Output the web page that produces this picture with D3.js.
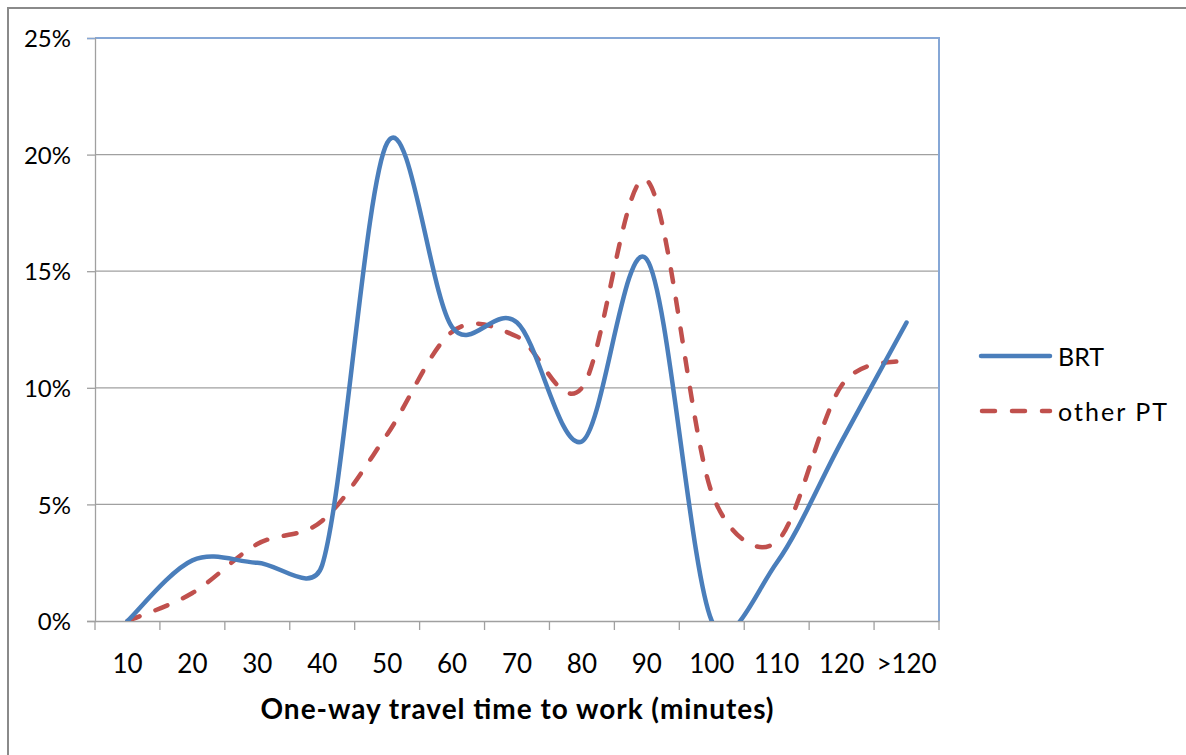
<!DOCTYPE html>
<html>
<head>
<meta charset="utf-8">
<script src="https://cdn.jsdelivr.net/npm/d3@7"></script>
<style>
  body { margin: 0; background: #fff; }
  svg { display: block; }
  text { font-family: Lato, "Open Sans", sans-serif; fill: #000; }
</style>
</head>
<body>
<svg id="chart" width="1186" height="755"></svg>
<script>
const categories = ["10","20","30","40","50","60","70","80","90","100","110","120",">120"];
const brt     = [0, 2.6, 2.5, 2.4, 20.5, 12.6, 12.8, 7.7, 15.5, 0, 2.5, 7.7, 12.8];
const otherPT = [0, 1.2, 3.3, 4.3, 8.0, 12.4, 12.2, 10.0, 18.9, 5.5, 3.4, 10.1, 11.2];
const yTicks  = [0, 5, 10, 15, 20, 25];
const seriesNames = ["BRT", "other PT"];

// Excel-style smoothed curve factory for d3.line (Bezier arms = neighbour chord / 6,
// clamped to half of the segment length)
function ExcelSmooth(context) { this._context = context; }
ExcelSmooth.prototype = {
  areaStart() { this._line = 0; },
  areaEnd() { this._line = NaN; },
  lineStart() { this._pts = []; },
  point(x, y) { this._pts.push([+x, +y]); },
  lineEnd() {
    const p = this._pts, c = this._context, n = p.length;
    if (!n) return;
    c.moveTo(p[0][0], p[0][1]);
    for (let i = 0; i < n - 1; i++) {
      const P0 = p[i - 1] || p[i], P1 = p[i], P2 = p[i + 1], P3 = p[i + 2] || p[i + 1];
      const d12 = Math.hypot(P2[0] - P1[0], P2[1] - P1[1]);
      let a1 = [(P2[0] - P0[0]) / 6, (P2[1] - P0[1]) / 6];
      let a2 = [(P3[0] - P1[0]) / 6, (P3[1] - P1[1]) / 6];
      const l1 = Math.hypot(a1[0], a1[1]), l2 = Math.hypot(a2[0], a2[1]);
      if (l1 > d12 / 2) { const s = d12 / 2 / l1; a1 = [a1[0] * s, a1[1] * s]; }
      if (l2 > d12 / 2) { const s = d12 / 2 / l2; a2 = [a2[0] * s, a2[1] * s]; }
      c.bezierCurveTo(P1[0] + a1[0], P1[1] + a1[1], P2[0] - a2[0], P2[1] - a2[1], P2[0], P2[1]);
    }
  }
};
const curveExcel = ctx => new ExcelSmooth(ctx);

(function () {
const svg = d3.select("#chart");
const W = 1186, H = 755;
const pLeft = 95, pRight = 939, pTop = 38, pBottom = 621;

// outer chart border
svg.append("rect").attr("x", 8).attr("y", 8).attr("width", W + 20).attr("height", H + 20)
  .attr("fill", "none").attr("stroke", "#8a8a8a").attr("stroke-width", 2);

const x = d3.scaleBand().domain(categories).range([pLeft, pRight]).padding(0);
const y = d3.scaleLinear().domain([0, 25]).range([pBottom, pTop]);

// gridlines
svg.append("g").selectAll("line").data(yTicks.filter(t => t > 0 && t < 25)).join("line")
  .attr("x1", pLeft).attr("x2", pRight)
  .attr("y1", d => y(d)).attr("y2", d => y(d))
  .attr("stroke", "#a0a0a0").attr("stroke-width", 1.3);

// plot area border (top & right, blue)
svg.append("path")
  .attr("d", `M${pLeft},${pTop}H${pRight}V${pBottom}`)
  .attr("fill", "none").attr("stroke", "#86a7d6").attr("stroke-width", 2);

// y axis
const yAxis = d3.axisLeft(y).tickValues(yTicks).tickFormat(d => d + "%").tickSize(8).tickPadding(16);
const gy = svg.append("g").attr("transform", `translate(${pLeft},0)`).call(yAxis);
gy.select(".domain").attr("stroke", "#a0a0a0").attr("stroke-width", 1.3);
gy.selectAll(".tick line").attr("stroke", "#a0a0a0").attr("stroke-width", 1.3);
gy.selectAll(".tick").filter(d => d === 25).select("line").attr("stroke", "#86a7d6");
gy.selectAll("text").attr("font-size", 24).attr("font-family", "Lato, sans-serif").attr("fill", "#000").attr("dy", "0.36em");

// x axis
const xAxis = d3.axisBottom(x).tickSize(0).tickPadding(34);
const gx = svg.append("g").attr("transform", `translate(0,${pBottom})`).call(xAxis);
gx.select(".domain").attr("stroke", "#a0a0a0").attr("stroke-width", 1.3);
gx.selectAll("text").attr("font-size", 26).attr("font-family", "Lato, sans-serif").attr("fill", "#000");
// boundary tick marks
const bounds = categories.map(c => x(c)).concat([x(categories[categories.length - 1]) + x.bandwidth()]);
gx.append("g").selectAll("line").data(bounds).join("line")
  .attr("x1", d => d).attr("x2", d => d).attr("y1", 0).attr("y2", 9)
  .attr("stroke", "#a0a0a0").attr("stroke-width", 1.3);

// x title
svg.append("text").attr("x", (pLeft + pRight) / 2).attr("y", 719)
  .attr("text-anchor", "middle").attr("font-size", 28).attr("font-weight", "bold")
  .attr("textLength", 513).attr("lengthAdjust", "spacing")
  .text("One-way travel time to work (minutes)");

// clip
svg.append("clipPath").attr("id", "plotclip").append("rect")
  .attr("x", pLeft).attr("y", pTop - 10).attr("width", pRight - pLeft).attr("height", pBottom - pTop + 10);

const line = d3.line()
  .x((d, i) => x(categories[i]) + x.bandwidth() / 2)
  .y(d => y(d))
  .curve(curveExcel);

const lines = svg.append("g").attr("clip-path", "url(#plotclip)");
lines.append("path").datum(otherPT).attr("d", line)
  .attr("fill", "none").attr("stroke", "#c0504d").attr("stroke-width", 4.5)
  .attr("stroke-dasharray", "13 17").attr("stroke-linecap", "round");
lines.append("path").datum(brt).attr("d", line)
  .attr("fill", "none").attr("stroke", "#4a7ebb").attr("stroke-width", 4.5)
  .attr("stroke-linecap", "round");

// legend
const lg = svg.append("g");
lg.append("line").attr("x1", 981).attr("x2", 1050).attr("y1", 356).attr("y2", 356)
  .attr("stroke", "#4a7ebb").attr("stroke-width", 4.5).attr("stroke-linecap", "round");
lg.append("text").attr("x", 1058).attr("y", 366).attr("font-size", 25).text(seriesNames[0]);
lg.append("line").attr("x1", 982).attr("x2", 1050).attr("y1", 411).attr("y2", 411)
  .attr("stroke", "#c0504d").attr("stroke-width", 4.5).attr("stroke-linecap", "round")
  .attr("stroke-dasharray", "13 17");
lg.append("text").attr("x", 1058).attr("y", 421).attr("font-size", 25)
  .attr("textLength", 109).attr("lengthAdjust", "spacing").text(seriesNames[1]);
})();
</script>
</body>
</html>
